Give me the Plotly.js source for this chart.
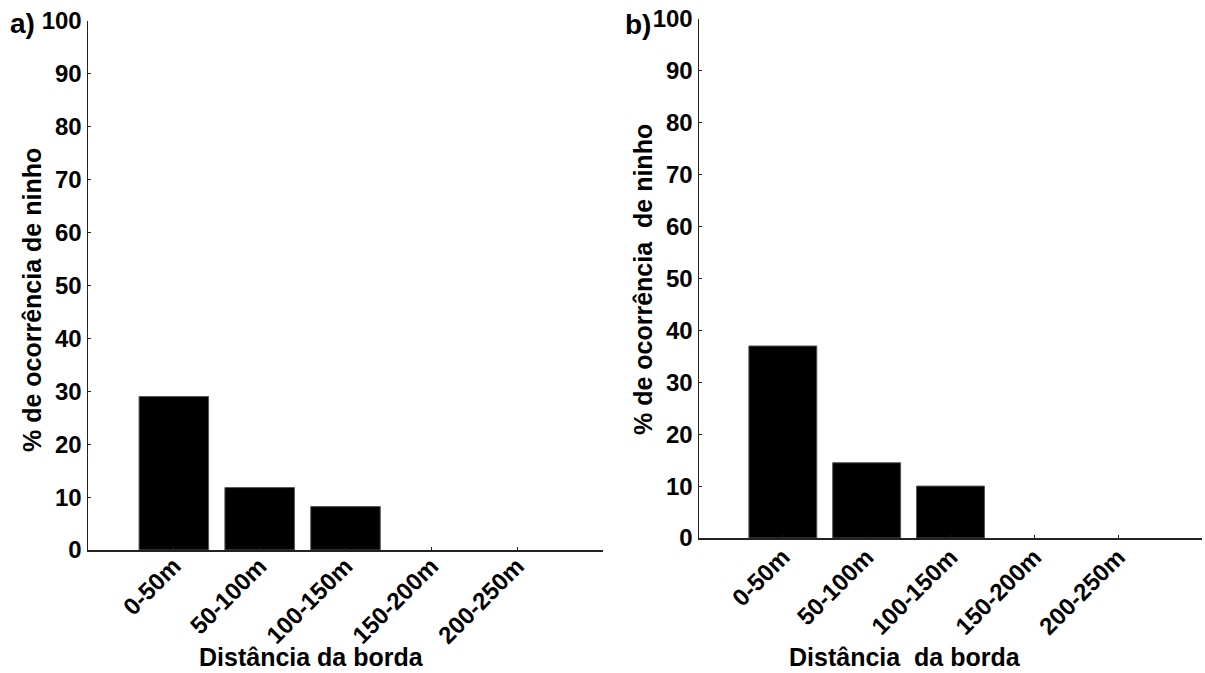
<!DOCTYPE html>
<html>
<head>
<meta charset="utf-8">
<script src="https://cdn.plot.ly/plotly-3.0.1.min.js"></script>
<style>html,body{margin:0;padding:0;background:#fff;}#chart{width:1205px;height:673px;}</style>
</head>
<body>
<div id="chart"></div>
<script>
const categories = ['0-50m', '50-100m', '100-150m', '150-200m', '200-250m'];
const valuesA = [29, 11.8, 8.2, 0, 0];
const valuesB = [37, 14.5, 10, 0, 0];
const yTickVals = [0, 10, 20, 30, 40, 50, 60, 70, 80, 90, 100];
const yTickText = ['0', '10', '20', '30', '40', '50', '60', '70', '80', '90', '100'];
const panelLabels = ['a)', 'b)'];
const yTitles = ['% de ocorrência de ninho', '% de ocorrência\u00a0 de ninho'];
const xTitles = ['Distância da borda', 'Distância\u00a0 da borda'];

const W = 1205, H = 673;
const FONT = 'Liberation Sans, Arial, Helvetica, sans-serif';
const px = v => v / W;
const py = v => 1 - v / H;

function barStyle(vals) {
  return {color: '#000000', line: {color: '#555555', width: vals.map(v => v > 0 ? 1 : 0)}};
}

const traces = [
  {type: 'bar', x: categories, y: valuesA, xaxis: 'x', yaxis: 'y', marker: barStyle(valuesA), width: 0.81, hoverinfo: 'none'},
  {type: 'bar', x: categories, y: valuesB, xaxis: 'x2', yaxis: 'y2', marker: barStyle(valuesB), width: 0.81, hoverinfo: 'none'}
];

const tickFont = {family: FONT, size: 24, color: '#000', weight: 700};
function xAxis(domain, anchor, standoff) {
  return {
    domain: domain, anchor: anchor, type: 'category', range: [-1, 5],
    showgrid: false, zeroline: false, showline: true, linecolor: '#222', linewidth: 1.5,
    ticks: 'inside', ticklen: 3, tickcolor: '#222', tickangle: -45,
    ticklabelstandoff: standoff,
    tickfont: tickFont, fixedrange: true
  };
}
function yAxis(domain, anchor) {
  return {
    domain: domain, anchor: anchor, range: [0, 100],
    tickmode: 'array', tickvals: yTickVals, ticktext: yTickText,
    showgrid: false, zeroline: false, showline: true, linecolor: '#222', linewidth: 1.5,
    ticks: 'inside', ticklen: 3, tickcolor: '#222',
    tickfont: tickFont, fixedrange: true
  };
}

const titleFont = {family: FONT, size: 25, color: '#000', weight: 700};
const panelFont = {family: FONT, size: 28, color: '#000', weight: 700};

const annotations = [
  {text: panelLabels[0], x: px(22), y: py(24), font: panelFont},
  {text: panelLabels[1], x: px(638), y: py(25), font: panelFont},
  {text: yTitles[0], x: px(32), y: py(300), textangle: -90, font: titleFont},
  {text: yTitles[1], x: px(643), y: py(280), textangle: -90, font: titleFont},
  {text: xTitles[0], x: px(311), y: 0, yanchor: 'bottom', font: titleFont},
  {text: xTitles[1], x: px(905), y: 0, yanchor: 'bottom', font: titleFont}
].map(a => Object.assign({xref: 'paper', yref: 'paper', showarrow: false, xanchor: 'center', yanchor: 'middle'}, a));

const layout = {
  width: W, height: H,
  margin: {l: 0, r: 0, t: 0, b: 0, pad: 0},
  paper_bgcolor: '#fff', plot_bgcolor: '#fff',
  showlegend: false, bargap: 0.19,
  xaxis: xAxis([px(88), px(603)], 'y', -9),
  yaxis: yAxis([py(550), py(21)], 'x'),
  xaxis2: xAxis([px(699), px(1202)], 'y2', -6),
  yaxis2: yAxis([py(538), py(19)], 'x2'),
  annotations: annotations,
  hovermode: false
};

Plotly.newPlot('chart', traces, layout, {displayModeBar: false, staticPlot: true});
</script>
</body>
</html>
